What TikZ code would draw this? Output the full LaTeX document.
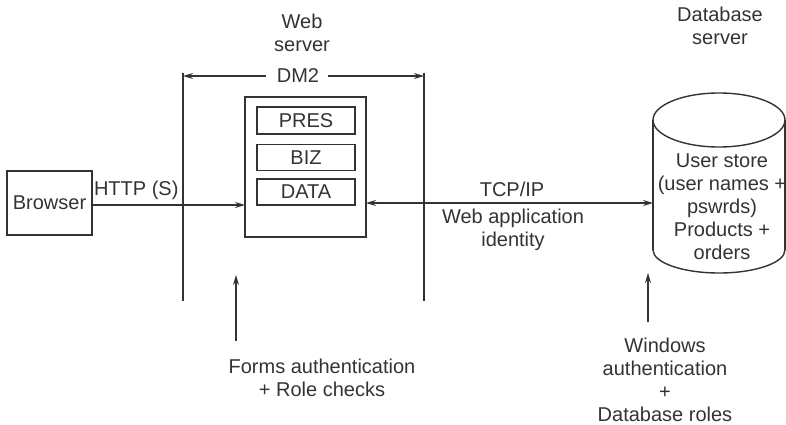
\documentclass[tikz,border=0pt]{standalone}
\usepackage{fontspec}
\setmainfont{Liberation Sans}
\usetikzlibrary{arrows.meta}
\definecolor{ink}{HTML}{333333}
\begin{document}
\begin{tikzpicture}[x=1pt,y=-1pt,
  every node/.style={inner sep=0pt,outer sep=0pt,text=ink,font=\fontsize{20}{23}\selectfont},
  line/.style={draw=ink,line width=1.4pt},
  arr/.style={line,-{Stealth[length=10pt,width=6pt]}},
  darr/.style={line,{Stealth[length=10pt,width=6pt]}-{Stealth[length=10pt,width=6pt]}},
  box/.style={line,rectangle,minimum width=#1},
  lbl/.style={align=center}]
\useasboundingbox (0,0) rectangle (786,425);
% Browser
\node[box=85pt,minimum height=64pt] (browser) at (49.5,203) {Browser};
% web server
\node[lbl] (wslabel) at (302,33) {Web\\server};
\node[line,rectangle,minimum width=121pt,minimum height=140pt] (ws) at (305.5,167) {};
\node[box=98pt,minimum height=27pt] (pres) at (306,120.5) {PRES};
\node[box=98pt,minimum height=26pt] (biz) at (306,157.5) {BIZ};
\node[box=98pt,minimum height=26pt] (data) at (306,192) {DATA};
% DM2 boundaries
\coordinate (vl1) at (183,73);
\coordinate (vl2) at (183,301);
\coordinate (vr1) at (424,73);
\coordinate (vr2) at (424,301);
\draw[line] (vl1) -- (vl2);
\draw[line] (vr1) -- (vr2);
\node (dm2) at (298,76) {DM2};
\draw[arr] (dm2.west) ++(-11,0) -- (vl1 |- dm2.west);
\draw[arr] (dm2.east) ++(9,0) -- (vr1 |- dm2.east);
% HTTP
\draw[arr] (browser.east |- 0,205) -- (ws.west |- 0,205);
\node[anchor=south west] (http) at (94,200) {HTTP (S)};
% database cylinder
\coordinate (dbc) at (719,120);
\draw[line] (653,120) -- (653,250);
\draw[line] (785,120) -- (785,250);
\draw[line] (dbc) ellipse [x radius=66pt, y radius=27pt];
\draw[line] (653,250) arc[start angle=180,end angle=360,x radius=66pt,y radius=23pt];
\node[lbl] (dbtext) at (722,207) {User store\\(user names +\\pswrds)\\Products +\\orders};
\node[lbl] (dblabel) at (720,26) {Database\\server};
\coordinate (dbleft) at (653,203);
\coordinate (dbbottom) at (648,273);
% TCP/IP
\draw[darr] (ws.east |- 0,203) -- (dbleft);
\node (tcp) at (512,189) {TCP/IP};
\node[lbl] (wai) at (513,230) {Web application\\identity};
% forms auth
\node[lbl] (forms) at (322,378) {Forms authentication\\+ Role checks};
\coordinate (formstail) at (236,341);
\coordinate (formstip) at (236,275);
\draw[arr] (formstail) -- (formstip);
% windows auth
\node[lbl] (win) at (665,380) {Windows\\authentication\\+\\Database roles};
\coordinate (wintail) at (648,322);
\draw[arr] (wintail) -- (dbbottom);
\end{tikzpicture}
\end{document}
